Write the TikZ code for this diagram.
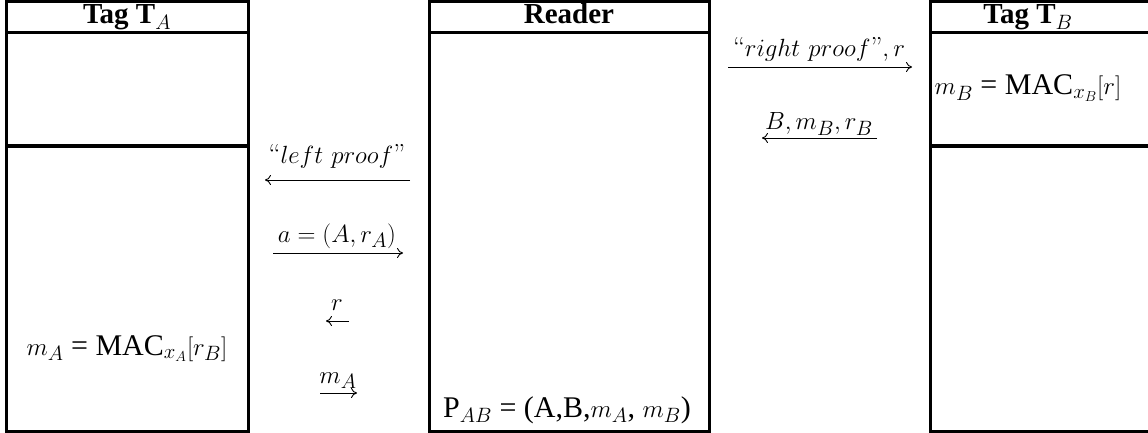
\documentclass[tikz,border=0pt]{standalone}
\usepackage{amsmath}
\usepackage{fontspec}
\newfontfamily\tms{Liberation Serif}
\usetikzlibrary{arrows.meta}
\tikzset{
  lane/.style={line width=3pt, line join=miter},
  head/.style={font=\fontsize{29}{34}\selectfont\tms, inner sep=0pt, anchor=base},
  txt/.style={font=\fontsize{30}{35}\selectfont\tms, inner sep=0pt, anchor=base},
  lbl/.style={font=\fontsize{27.5}{32}\selectfont, inner sep=0pt, anchor=base},
  msg/.style={line width=0.9pt, -{To[length=6pt,width=10pt]}},
}
\begin{document}
\begin{tikzpicture}[x=1pt,y=-1pt]
\useasboundingbox (0,0) rectangle (1148,433);
\clip (0,0) rectangle (1148,433);
% boxes
\draw[lane] (6,2) rectangle (248,431);
\draw[lane] (6,33) -- (248,33);
\draw[lane] (6,146) -- (248,146);
\draw[lane] (429,2) rectangle (709,431);
\draw[lane] (429,33) -- (709,33);
\draw[lane] (930,2) rectangle (1170,431);
\draw[lane] (930,33) -- (1170,33);
\draw[lane] (930,146) -- (1170,146);
% headers
\node[head] (hA) at (127,24) {\textbf{Tag T}$_A$};
\node[head] (hR) at (569,24) {\textbf{Reader}};
\node[head] (hB) at (1028,24) {\textbf{Tag T}$_B$};
% box contents
\node[txt] (mA) at (127,355) {$m_A$ = MAC$_{x_A}[r_B]$};
\node[txt] (mB) at (1028,95) {$m_B$ = MAC$_{x_B}[r]$};
\node[txt] (pAB) at (567,417) {P$_{AB}$ = (A,B,$m_A$, $m_B$)};
% message labels
\node[lbl] (l1) at (337,163) {``$left\ proof$''};
\node[lbl] (l2) at (337,242) {$a=(A,r_A)$};
\node[lbl] (l3) at (337,310) {$r$};
\node[lbl] (l4) at (338,383) {$m_A$};
\node[lbl] (l5) at (819,57) {``$right\ proof$''$,r$};
\node[lbl] (l6) at (819,130) {$B,m_B,r_B$};
% arrow end points
\coordinate (a1s) at (410,180); \coordinate (a1e) at (265,180);
\coordinate (a2s) at (273,253); \coordinate (a2e) at (403,253);
\coordinate (a3s) at (349,321); \coordinate (a3e) at (326,321);
\coordinate (a4s) at (320,393); \coordinate (a4e) at (357,393);
\coordinate (a5s) at (728,67);  \coordinate (a5e) at (912,67);
\coordinate (a6s) at (877,138); \coordinate (a6e) at (762,138);
\draw[msg] (a1s) -- (a1e);
\draw[msg] (a2s) -- (a2e);
\draw[msg] (a3s) -- (a3e);
\draw[msg] (a4s) -- (a4e);
\draw[msg] (a5s) -- (a5e);
\draw[msg] (a6s) -- (a6e);
\end{tikzpicture}
\end{document}
